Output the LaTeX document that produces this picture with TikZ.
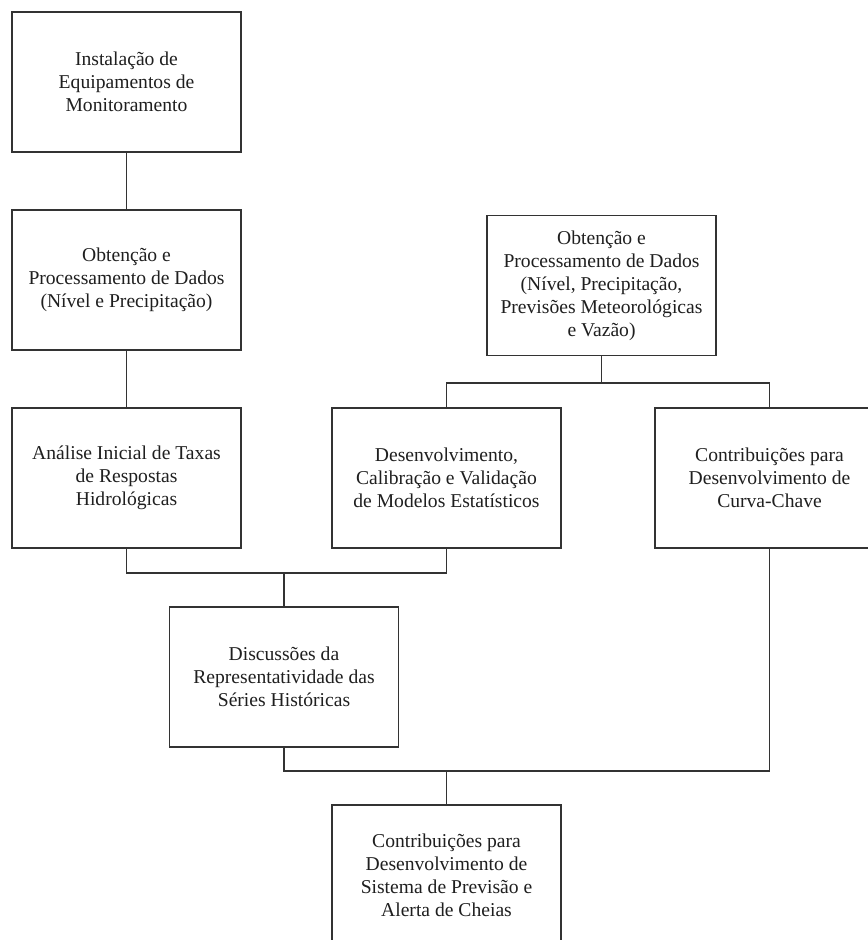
\documentclass[tikz,border=0pt]{standalone}
\usepackage{fontspec}
\setmainfont{Liberation Serif}
\begin{document}
\begin{tikzpicture}[x=0.75pt,y=-0.75pt,
  box/.style={draw=black!80, line width=1pt, minimum width=171.75pt, minimum height=105pt,
    inner sep=2pt, align=center, text=black!88, font=\fontsize{14.7}{17.2}\selectfont},
  conn/.style={draw=black!80, line width=1pt}]
\useasboundingbox (0,0) rectangle (868,940);
\clip (0,0) rectangle (868,940);
\fill[white] (0,0) rectangle (868,940);

\node[box] (b1) at (126.5,82) {Instalação de\\Equipamentos de\\Monitoramento};
\node[box] (b2) at (126.5,280) {Obtenção e\\Processamento de Dados\\(Nível e Precipitação)};
\node[box] (b3) at (126.5,478) {Análise Inicial de Taxas\\de Respostas\\Hidrológicas};
\node[box] (b4) at (446.5,478) {Desenvolvimento,\\Calibração e Validação\\de Modelos Estatísticos};
\node[box] (b5) at (769.5,478) {Contribuições para\\Desenvolvimento de\\Curva-Chave};
\node[box] (bR) at (601.5,285.5) {Obtenção e\\Processamento de Dados\\(Nível, Precipitação,\\Previsões Meteorológicas\\e Vazão)};
\node[box] (b6) at (284,677) {Discussões da\\Representatividade das\\Séries Históricas};
\node[box] (b7) at (446.5,875) {Contribuições para\\Desenvolvimento de\\Sistema de Previsão e\\Alerta de Cheias};

\coordinate (yR) at (0,383);
\coordinate (y1) at (0,573);
\coordinate (y2) at (0,771);
\coordinate (jR) at (bR.south |- yR);
\coordinate (j1) at (b6.north |- y1);
\coordinate (j2) at (b7.north |- y2);

\draw[conn] (b1.south) -- (b2.north);
\draw[conn] (b2.south) -- (b3.north);
\draw[conn] (bR.south) -- (jR);
\draw[conn] (b4.north) |- (jR) -| (b5.north);
\draw[conn] (b3.south) |- (j1) -| (b4.south);
\draw[conn] (j1) -- (b6.north);
\draw[conn] (b6.south) |- (j2) -| (b5.south);
\draw[conn] (j2) -- (b7.north);
\end{tikzpicture}
\end{document}
